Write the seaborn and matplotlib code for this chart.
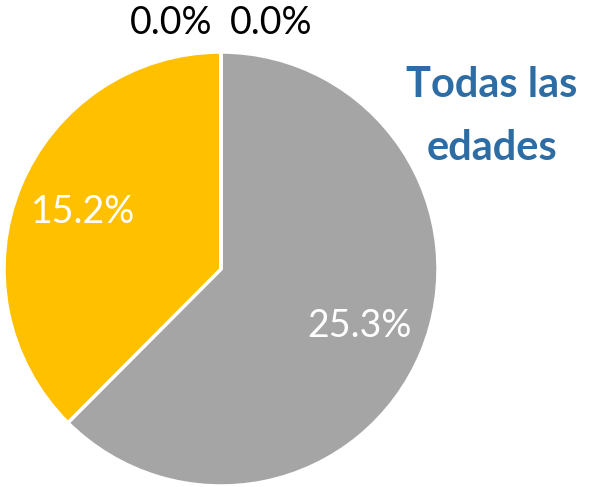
import matplotlib
matplotlib.use("Agg")
import matplotlib.pyplot as plt
import seaborn as sns

# slice values in drawing order (clockwise from 12 o'clock)
values = [25.3, 15.2, 0.0, 0.0]
colors = ["#A5A5A5", "#FFC000", "#5B9BD5", "#ED7D31"]
zero_label_x = [0.23, -0.23]
title_lines = ["Todas las", "edades"]

sns.set_theme(style="white")
plt.rcParams['font.family'] = ['Lato', 'DejaVu Sans']

fig = plt.figure(figsize=(5.9, 4.87), dpi=100)
ax = fig.add_axes([4 / 590, 1 / 487, 434 / 590, 434 / 487])

wedges, texts, autotexts = ax.pie(
    values, colors=colors, startangle=90, counterclock=False,
    autopct=lambda p: f"{p * sum(values) / 100:.1f}%" if p > 0 else "",
    pctdistance=0.69, radius=1.0,
    wedgeprops=dict(edgecolor="white", linewidth=2.5),
    textprops=dict(color="white", fontsize=27),
)

# labels for the empty slices sit above the pie
for v, x in zip(values[2:], zero_label_x):
    ax.text(x, 1.135, f"{v:.1f}%", ha="center", va="center",
            fontsize=27, color="black")

ax.set_xlim(-1, 1)
ax.set_ylim(-1, 1)
ax.set_aspect("equal")
ax.axis("off")

fig.text(492 / 590, 1 - 85 / 487, title_lines[0], ha="center", va="center",
         fontsize=30, fontweight="bold", color="#2E6DA4")
fig.text(492 / 590, 1 - 148 / 487, title_lines[1], ha="center", va="center",
         fontsize=30, fontweight="bold", color="#2E6DA4")

fig.savefig("out.png", dpi=100)
plt.close(fig)
